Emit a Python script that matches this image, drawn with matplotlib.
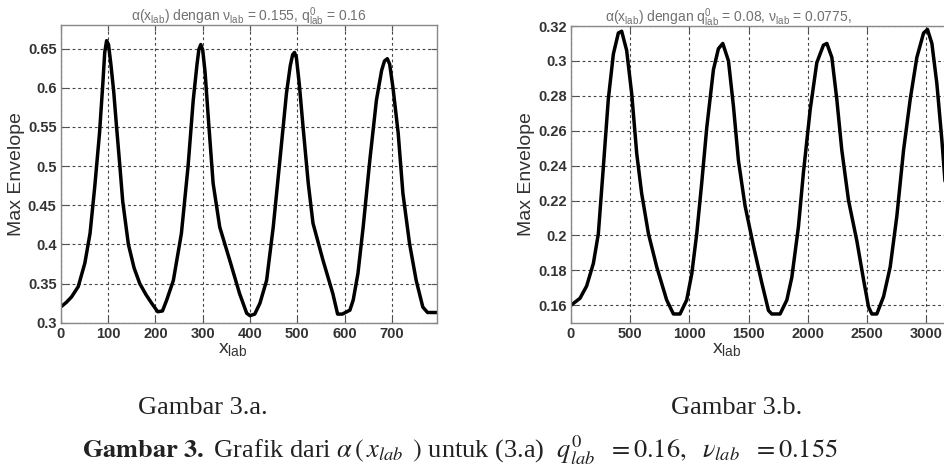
import matplotlib
matplotlib.use("Agg")
import matplotlib.pyplot as plt

plt.rcParams['font.family'] = ['Liberation Sans', 'DejaVu Sans']
plt.rcParams['mathtext.fontset'] = 'custom'
plt.rcParams['mathtext.rm'] = 'Liberation Sans'
plt.rcParams['mathtext.it'] = 'Liberation Sans:italic'
plt.rcParams['mathtext.bf'] = 'Liberation Sans:bold'

# ---- data: Gambar 3.a ----
xa = [0, 12, 23, 37, 51, 62, 72, 82, 89, 93, 97, 101, 106, 112, 118, 125, 131, 143, 155, 167, 180,
      192, 205, 215, 224, 238, 255, 269, 280, 288, 292, 296, 300, 305, 312, 322, 336, 357, 378, 393,
      400, 410, 421, 435, 449, 463, 477, 485, 490, 494, 498, 504, 512, 523, 533, 554, 575, 585,
      595, 611, 618, 628, 639, 653, 667, 678, 684, 690, 695, 702, 713, 723, 737, 751, 765, 775, 794]
ya = [0.320, 0.326, 0.333, 0.346, 0.376, 0.414, 0.474, 0.542, 0.605, 0.645, 0.660, 0.655, 0.630,
      0.595, 0.550, 0.500, 0.455, 0.400, 0.370, 0.350, 0.336, 0.325, 0.314, 0.315, 0.329, 0.354,
      0.414, 0.499, 0.584, 0.630, 0.649, 0.655, 0.648, 0.620, 0.560, 0.478, 0.422, 0.380, 0.337,
      0.312, 0.309, 0.311, 0.325, 0.354, 0.422, 0.507, 0.593, 0.628, 0.642, 0.645, 0.638, 0.605,
      0.550, 0.478, 0.427, 0.380, 0.337, 0.311, 0.311, 0.316, 0.329, 0.363, 0.422, 0.507, 0.584,
      0.622, 0.634, 0.637, 0.630, 0.600, 0.542, 0.465, 0.401, 0.354, 0.320, 0.313, 0.313]
xticks_a = [0, 100, 200, 300, 400, 500, 600, 700]
yticks_a = [0.3, 0.35, 0.4, 0.45, 0.5, 0.55, 0.6, 0.65]
yticklabels_a = ['0.3', '0.35', '0.4', '0.45', '0.5', '0.55', '0.6', '0.65']

# ---- data: Gambar 3.b ----
xb = [0, 76, 132, 189, 231, 273, 315, 358, 400, 428, 470, 513, 555, 597, 654, 724, 808, 865, 921,
      977, 1020, 1062, 1104, 1147, 1203, 1245, 1282, 1330, 1372, 1414, 1470, 1541, 1611, 1668,
      1696, 1766, 1823, 1865, 1921, 1963, 2020, 2076, 2132, 2161, 2203, 2245, 2287, 2344, 2414,
      2470, 2513, 2541, 2583, 2640, 2696, 2752, 2809, 2865, 2921, 2978, 3011, 3048, 3090, 3132,
      3160, 3200, 3250]
yb = [0.160, 0.164, 0.171, 0.184, 0.201, 0.239, 0.278, 0.304, 0.316, 0.317, 0.306, 0.281, 0.247,
      0.224, 0.201, 0.182, 0.163, 0.155, 0.155, 0.163, 0.178, 0.201, 0.230, 0.262, 0.295, 0.307,
      0.310, 0.300, 0.274, 0.243, 0.217, 0.194, 0.173, 0.157, 0.155, 0.155, 0.163, 0.176, 0.205,
      0.236, 0.272, 0.299, 0.309, 0.310, 0.302, 0.278, 0.249, 0.220, 0.197, 0.175, 0.159, 0.155,
      0.155, 0.165, 0.182, 0.211, 0.249, 0.278, 0.302, 0.316, 0.318, 0.310, 0.287, 0.255, 0.230,
      0.210, 0.195]
xticks_b = [0, 500, 1000, 1500, 2000, 2500, 3000]
yticks_b = [0.16, 0.18, 0.2, 0.22, 0.24, 0.26, 0.28, 0.3, 0.32]
yticklabels_b = ['0.16', '0.18', '0.2', '0.22', '0.24', '0.26', '0.28', '0.3', '0.32']

title_a = r'α(x$_{\mathrm{lab}}$) dengan ν$_{\mathrm{lab}}$ = 0.155, q$^{0}_{\mathrm{lab}}$ = 0.16'
title_b = r'α(x$_{\mathrm{lab}}$) dengan q$^{0}_{\mathrm{lab}}$ = 0.08, ν$_{\mathrm{lab}}$ = 0.0775,'
caption_a = 'Gambar 3.a.'
caption_b = 'Gambar 3.b.'
caption_main = (r'$\mathbf{Gambar\ 3.}$ Grafik dari $\alpha\,(\,x_{lab}\ \,)$ untuk (3.a)  '
                r'$q^{0}_{lab}\ \ =0.16,\ \ \nu_{lab}\ \ =0.155$')

W, H = 945, 468
fig = plt.figure(figsize=(W / 100, H / 100), dpi=100)
fig.patch.set_facecolor('white')


def setup(ax, x, y, xlim, ylim, xt, yt, ytl):
    ax.plot(x, y, color='black', lw=2.5, solid_joinstyle='round', solid_capstyle='round')
    ax.set_xlim(*xlim)
    ax.set_ylim(*ylim)
    ax.set_xticks(xt)
    ax.set_xticklabels([str(v) for v in xt], fontsize=10.5, fontweight='bold', color='#333333')
    ax.set_yticks(yt)
    ax.set_yticklabels(ytl, fontsize=10.5, fontweight='bold', color='#333333')
    ax.tick_params(direction='in', length=4, width=0.8, color='#555555', top=True, right=True, pad=3)
    ax.grid(True, color='#444444', linestyle=(0, (2.5, 2.5)), linewidth=0.8)
    for s in ax.spines.values():
        s.set_color('#888888')
        s.set_linewidth(1.0)
    ax.set_ylabel('Max Envelope', fontsize=14, color='#333333', labelpad=2)
    ax.set_xlabel(r'x$_{\mathrm{lab}}$', fontsize=14, color='#333333')


axA = fig.add_axes([60.7 / W, 1 - 322.7 / H, (437 - 60.7) / W, (322.7 - 25) / H])
setup(axA, xa, ya, (0, 795), (0.3, 0.68), xticks_a, yticks_a, yticklabels_a)
axA.set_title(title_a, fontsize=10, color='#707070', pad=3)
axA.xaxis.set_label_coords((233 - 60.7) / (437 - 60.7), -0.06)

wb = 3500 / 500 * 59.2
axB = fig.add_axes([571 / W, 1 - 322.7 / H, wb / W, (322.7 - 26) / H])
setup(axB, xb, yb, (0, 3500), (0.15, 0.32), xticks_b, yticks_b, yticklabels_b)
axB.set_title(title_b, fontsize=10, color='#707070', pad=3, x=(728 - 571) / wb)
axB.xaxis.set_label_coords((727 - 571) / wb, -0.06)

fig.text(203 / W, 1 - 408 / H, caption_a, ha='center', va='center', fontsize=19,
         family=['Liberation Serif'], color='#222222')
fig.text(737 / W, 1 - 408 / H, caption_b, ha='center', va='center', fontsize=19,
         family=['Liberation Serif'], color='#222222')

fig.text(82 / W, 1 - 467 / H, caption_main, ha='left', va='bottom', fontsize=19,
         family=['Liberation Serif'], math_fontfamily='stix', color='#222222')

fig.savefig('out.png', dpi=100, facecolor='white')
